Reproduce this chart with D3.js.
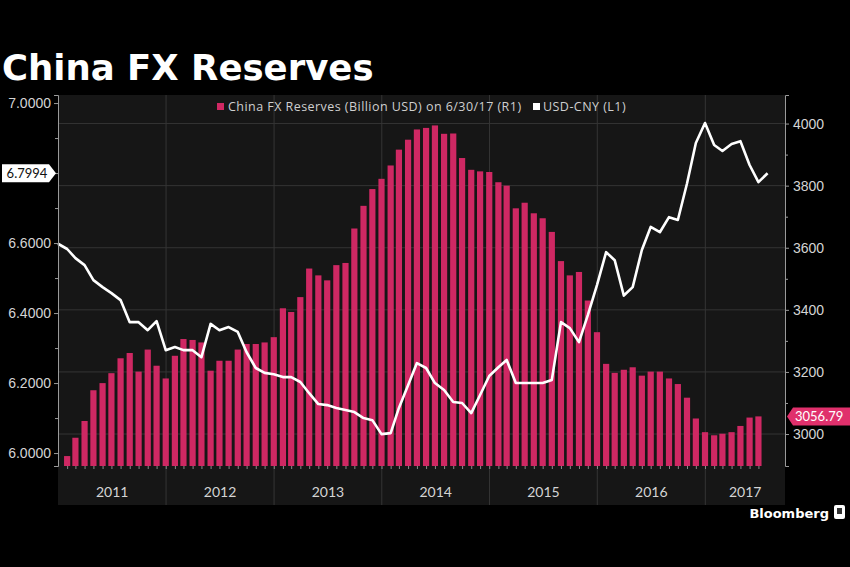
<!DOCTYPE html>
<html>
<head>
<meta charset="utf-8">
<script src="https://cdn.jsdelivr.net/npm/d3@7/dist/d3.min.js"></script>
<style>
  body { margin: 0; background: #000; }
  svg { display: block; }
</style>
</head>
<body>
<div class="chart"></div>
<script>
// USD-CNY, month end, Dec 2010 -> Jul 2017 (left axis, L1)
const usdCny = [
  6.598,
  6.583, 6.557, 6.537, 6.494, 6.474, 6.457, 6.437, 6.374, 6.374, 6.351, 6.377, 6.294,
  6.303, 6.294, 6.294, 6.274, 6.369, 6.351, 6.360, 6.346, 6.288, 6.243, 6.229, 6.225,
  6.217, 6.217, 6.203, 6.171, 6.140, 6.137, 6.129, 6.123, 6.117, 6.100, 6.094, 6.054,
  6.057, 6.129, 6.194, 6.257, 6.243, 6.200, 6.180, 6.146, 6.143, 6.114, 6.166, 6.220,
  6.245, 6.266, 6.200, 6.200, 6.200, 6.200, 6.209, 6.374, 6.357, 6.317, 6.394, 6.480,
  6.574, 6.551, 6.450, 6.474, 6.580, 6.646, 6.631, 6.674, 6.666, 6.770, 6.886, 6.943,
  6.880, 6.863, 6.883, 6.891, 6.823, 6.774, 6.7994
];

// China FX reserves (billion USD), month end, Jan 2011 -> Jun 2017 (right axis, R1)
const reserves = [
  2929, 2988, 3042, 3141, 3164, 3196, 3244, 3261, 3201, 3272, 3220, 3179,
  3252, 3306, 3303, 3295, 3204, 3236, 3236, 3272, 3290, 3290, 3295, 3312,
  3405, 3393, 3441, 3533, 3511, 3495, 3544, 3551, 3662, 3735, 3789, 3822,
  3865, 3916, 3948, 3981, 3986, 3994, 3967, 3968, 3889, 3851, 3846, 3844,
  3811, 3800, 3727, 3745, 3711, 3695, 3651, 3557, 3511, 3522, 3430, 3328,
  3226, 3197, 3207, 3215, 3188, 3201, 3201, 3179, 3161, 3117, 3050, 3006,
  2996, 3001, 3006, 3026, 3053, 3056.79
];

const years = ["2011", "2012", "2013", "2014", "2015", "2016", "2017"];
const leftTicks = [6.0, 6.2, 6.4, 6.6, 7.0];   // 6.8 sits under the last-value tag
const leftMinor = [6.1, 6.3, 6.5, 6.7, 6.8, 6.9];
const rightTicks = [3000, 3200, 3400, 3600, 3800, 4000];
const rightMinor = [3100, 3300, 3500, 3700, 3900];

const legendBars = "China FX Reserves (Billion USD) on 6/30/17 (R1)";
const legendLine = "USD-CNY (L1)";

// month-end dates (line starts one month before the bars)
const lineDates = usdCny.map((d, i) => new Date(2011, i, 0));
const barDates = reserves.map((d, i) => new Date(2011, i + 1, 0));

const W = 850, H = 567;
const plot = { left: 58, right: 785, top: 95, bottom: 466, band: 505 };

const svg = d3.select(".chart").append("svg")
  .attr("width", W)
  .attr("height", H)
  .style("font-family", "Lato, 'Open Sans', sans-serif");

svg.append("rect").attr("width", W).attr("height", H).attr("fill", "#000");

// plot background + axis band
svg.append("rect")
  .attr("x", plot.left).attr("y", plot.top)
  .attr("width", plot.right - plot.left).attr("height", plot.band - plot.top)
  .attr("fill", "#161616");

// scales
const x = d3.scaleTime()
  .domain([new Date(2010, 11, 31), new Date(2017, 8, 28)])
  .range([plot.left, plot.right]);

const yL = d3.scaleLinear().domain([5.963, 7.023]).range([plot.bottom, plot.top]);
const yR = d3.scaleLinear().domain([2897, 4092]).range([plot.bottom, plot.top]);

// horizontal grid (right axis)
svg.append("g").selectAll("line")
  .data(rightTicks)
  .enter().append("line")
  .attr("x1", plot.left).attr("x2", plot.right)
  .attr("y1", d => yR(d)).attr("y2", d => yR(d))
  .attr("stroke", "#343434").attr("stroke-width", 1);

// vertical year separators
const yearStarts = years.slice(1).map(y => new Date(+y, 0, 1));
svg.append("g").selectAll("line")
  .data(yearStarts)
  .enter().append("line")
  .attr("x1", d => x(d)).attr("x2", d => x(d))
  .attr("y1", plot.top).attr("y2", plot.band)
  .attr("stroke", "#353535").attr("stroke-width", 1);

// bars
const barW = 6.2;
svg.append("g").selectAll("rect")
  .data(reserves)
  .enter().append("rect")
  .attr("x", (d, i) => x(barDates[i]) - barW / 2)
  .attr("y", d => yR(d))
  .attr("width", barW)
  .attr("height", d => plot.bottom - yR(d))
  .attr("fill", "#cf2863");

// line
const line = d3.line()
  .x((d, i) => x(lineDates[i]))
  .y(d => yL(d));

svg.append("path")
  .datum(usdCny)
  .attr("d", line)
  .attr("fill", "none")
  .attr("stroke", "#fff")
  .attr("stroke-width", 2.6)
  .attr("stroke-linejoin", "round");

// left axis
svg.append("g")
  .attr("transform", `translate(${plot.left},0)`)
  .call(d3.axisLeft(yL).tickValues(leftTicks).tickSize(4).tickPadding(3).tickFormat(d3.format(".4f")));
svg.append("g")
  .attr("transform", `translate(${plot.left},0)`)
  .call(d3.axisLeft(yL).tickValues(leftMinor).tickSize(3).tickFormat(""))
  .select(".domain").remove();

// right axis
svg.append("g")
  .attr("transform", `translate(${plot.right},0)`)
  .call(d3.axisRight(yR).tickValues(rightTicks).tickSize(4).tickPadding(4).tickFormat(d3.format("d")));
svg.append("g")
  .attr("transform", `translate(${plot.right},0)`)
  .call(d3.axisRight(yR).tickValues(rightMinor).tickSize(3).tickFormat(""))
  .select(".domain").remove();

svg.selectAll(".domain").attr("stroke", "#9a9a9a");
svg.selectAll(".tick line").attr("stroke", "#9a9a9a");
svg.selectAll(".tick text")
  .attr("fill", "#d4d4d4")
  .style("font-size", "14px");

// month ticks along the bottom
svg.append("g")
  .attr("transform", `translate(0,${plot.bottom})`)
  .call(d3.axisBottom(x).tickValues(barDates).tickSize(3).tickFormat(""))
  .call(g => g.select(".domain").remove())
  .selectAll(".tick line").attr("stroke", "#8a8a8a");

// year labels, centred in each year's span
svg.append("g").selectAll("text")
  .data(years)
  .enter().append("text")
  .attr("x", d => {
    const a = Math.max(x(new Date(+d, 0, 1)), plot.left);
    const b = Math.min(x(new Date(+d + 1, 0, 1)), plot.right);
    return (a + b) / 2;
  })
  .attr("y", 492)
  .attr("dy", "0.35em")
  .attr("text-anchor", "middle")
  .attr("fill", "#d4d4d4")
  .style("font-size", "14px")
  .text(d => d);

// title
svg.append("text")
  .attr("x", 2).attr("y", 80)
  .attr("fill", "#fff")
  .style("font-family", "'DejaVu Sans', sans-serif")
  .style("font-weight", "bold")
  .style("font-size", "35.5px")
  .text("China FX Reserves");

// legend
const lg = svg.append("g")
  .style("font-family", "'Open Sans', sans-serif")
  .style("font-size", "12.5px")
  .style("letter-spacing", "0.45px")
  .attr("fill", "#cfcfcf");
lg.append("rect").attr("x", 217).attr("y", 103).attr("width", 7).attr("height", 7).attr("fill", "#cf2863");
lg.append("text").attr("x", 228).attr("y", 107).attr("dy", "0.35em").text(legendBars);
lg.append("rect").attr("x", 533).attr("y", 103).attr("width", 7).attr("height", 7).attr("fill", "#fff");
lg.append("text").attr("x", 543).attr("y", 107).attr("dy", "0.35em").text(legendLine);

// last value tags
const lastFx = usdCny[usdCny.length - 1];
const lastRes = reserves[reserves.length - 1];

const yl = yL(lastFx);
svg.append("path")
  .attr("d", `M2,${yl - 9} H49 L56,${yl} L49,${yl + 9} H2 Z`)
  .attr("fill", "#fff");
svg.append("text")
  .attr("x", 27).attr("y", yl).attr("dy", "0.35em")
  .attr("text-anchor", "middle")
  .attr("fill", "#111")
  .style("font-size", "13px")
  .text(d3.format(".4f")(lastFx));

const yr = yR(lastRes);
svg.append("path")
  .attr("d", `M787,${yr} L793,${yr - 9} H850 V${yr + 9} H793 Z`)
  .attr("fill", "#e0306c");
svg.append("text")
  .attr("x", 795).attr("y", yr).attr("dy", "0.35em")
  .attr("fill", "#fff")
  .style("font-size", "13px")
  .text(d3.format(".2f")(lastRes));

// Bloomberg mark
svg.append("text")
  .attr("x", 829).attr("y", 518)
  .attr("text-anchor", "end")
  .attr("fill", "#fff")
  .style("font-family", "'DejaVu Sans', sans-serif")
  .style("font-weight", "bold")
  .style("font-size", "13px")
  .text("Bloomberg");
svg.append("rect")
  .attr("x", 834).attr("y", 505).attr("width", 11).attr("height", 14).attr("rx", 2)
  .attr("fill", "#fff");
svg.append("rect")
  .attr("x", 837).attr("y", 508).attr("width", 5).attr("height", 6)
  .attr("fill", "#333");
</script>
</body>
</html>
